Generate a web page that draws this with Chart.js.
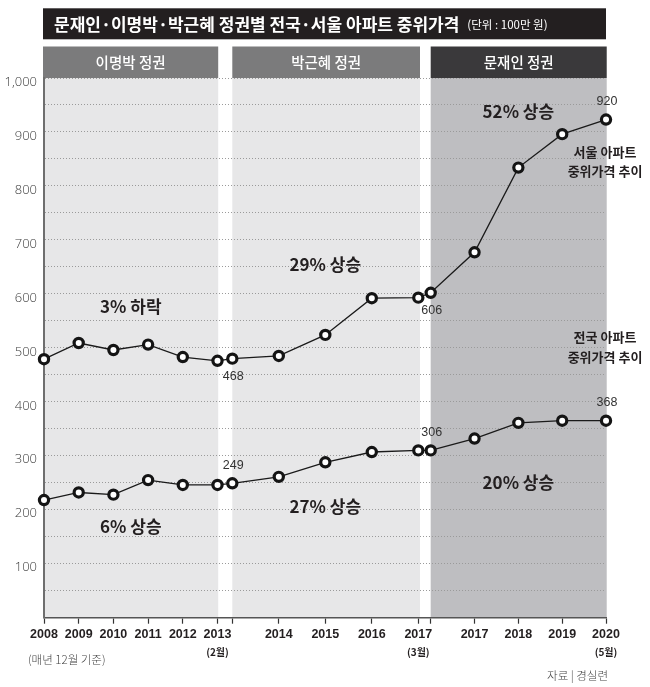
<!DOCTYPE html>
<html><head><meta charset="utf-8">
<script src="https://cdn.jsdelivr.net/npm/chart.js@4.4.1/dist/chart.umd.min.js"></script>
<style>html,body{margin:0;padding:0;background:#fff;overflow:hidden}#wrap{width:650px;height:687px;position:relative}</style>
</head><body><div id="wrap"><canvas id="c" width="650" height="687"></canvas></div>
<script>
// ---------- data ----------
const categories = ['2008','2009','2010','2011','2012','2013','','2014','2015','2016','2017','','2017','2018','2019','2020'];
const subLabels  = ['','','','','','(2월)','','','','','(3월)','','','','','(5월)'];
const periods    = ['이명박 정권','박근혜 정권','문재인 정권'];
const periodOf   = [0,0,0,0,0,0,1,1,1,1,1,2,2,2,2,2];
const seoulValues  = [479,509,496,506,483,476,480,485,524,592,593,602,677,834,896,923];
const nationValues = [218,232,228,255,246,246,249,261,288,307,310,310,332,361,365,365];
const seoulNotes   = ['','','','','','','468','','','','','606','','','','920'];
const nationNotes  = ['','','','','','','249','','','','','306','','','','368'];
const changeNotes  = [['3% 하락','6% 상승'],['29% 상승','27% 상승'],['52% 상승','20% 상승']];
const seriesNames  = [['서울 아파트','중위가격 추이'],['전국 아파트','중위가격 추이']];
const titleText = '문재인·이명박·박근혜 정권별 전국·서울 아파트 중위가격';
const unitText  = '(단위 : 100만 원)';
const noteText  = '(매년 12월 기준)';
const sourceText = '자료 | 경실련';

// ---------- layout (stylised axis: each government period has its own spacing) ----------
const X_MAX = 562;
const periodLayout = [{start:0, step:34.7},{start:188.3, step:46.5},{start:386.7, step:43.83}];
function xOf(i){ const p = periodOf[i]; const first = periodOf.indexOf(p); return periodLayout[p].start + (i-first)*periodLayout[p].step; }
const xVals = categories.map((_,i)=>xOf(i));
const KR = '"Noto Sans CJK KR", "Noto Sans", sans-serif';
const NUM = '"Liberation Sans", Arial, sans-serif';

const bgPlugin = {
  id:'bg',
  beforeDraw(chart){
    const {ctx, chartArea:a, scales:{x}} = chart;
    ctx.save();
    ctx.fillStyle='#fff'; ctx.fillRect(0,0,chart.width,chart.height);
    // title bar
    ctx.fillStyle='#231f20'; ctx.fillRect(a.left-1, 8.3, a.right-a.left+1, 31);
    ctx.fillStyle='#fff'; ctx.textBaseline='middle'; ctx.textAlign='left';
    ctx.font='bold 17px '+KR; ctx.fillText(titleText, a.left+10, 24.3);
    const w = ctx.measureText(titleText).width;
    ctx.font='11.5px '+KR; ctx.fillText(unitText, a.left+10+w+8, 25);
    // panels + headers
    periods.forEach((name,p)=>{
      const first = periodOf.indexOf(p), last = periodOf.lastIndexOf(p);
      let l = x.getPixelForValue(xVals[first]);
      let r = x.getPixelForValue(xVals[last]) + (p===1?1.7:0.7);
      if (p===0) l = a.left;
      ctx.fillStyle = p===2 ? '#bebec1' : '#e7e7e8';
      ctx.fillRect(l, a.top, r-l, a.bottom-a.top);
      ctx.fillStyle = p===2 ? '#3a393b' : '#7b7b7c';
      const hl = p===0 ? l-1 : l;
      ctx.fillRect(hl, a.top-31.5, r-hl, 31.5);
      ctx.fillStyle='#fff'; ctx.textAlign='center'; ctx.font='500 14.5px '+KR;
      ctx.fillText(name, (hl+r)/2, a.top-15.5);
    });
    ctx.restore();
  },
  afterDatasetsDraw(chart){
    const {ctx, chartArea:a, scales:{x,y}} = chart;
    ctx.save();
    // value notes
    [seoulNotes, nationNotes].forEach((notes,d)=>{
      const meta = chart.getDatasetMeta(d);
      notes.forEach((t,i)=>{
        if(!t) return;
        const pt = meta.data[i];
        const below = (d===0 && (i===6 || i===11));
        ctx.font='12.5px '+NUM; ctx.fillStyle='#333'; ctx.textAlign='center'; ctx.textBaseline='middle';
        ctx.fillText(t, pt.x+1, pt.y + (below?18:-18));
      });
    });
    // change notes per period
    const yPos = [[577,169],[655,205.5],[937,250]];
    changeNotes.forEach((pair,p)=>{
      const first = periodOf.indexOf(p), last = periodOf.lastIndexOf(p);
      const l = p===0 ? a.left : x.getPixelForValue(xVals[first]);
      const r = x.getPixelForValue(xVals[last]);
      pair.forEach((t,k)=>{
        ctx.font='bold 17px '+KR; ctx.fillStyle='#231f20'; ctx.textAlign='center'; ctx.textBaseline='middle';
        ctx.fillText(t, (l+r)/2, y.getPixelForValue(yPos[p][k]));
      });
    });
    // series names
    const sy = [[151.7,171],[337.5,357.5]];
    seriesNames.forEach((lines,s)=>{
      lines.forEach((t,k)=>{
        ctx.font='bold 13px '+KR; ctx.fillStyle='#231f20'; ctx.textAlign='center'; ctx.textBaseline='middle';
        ctx.fillText(t, a.right-1, sy[s][k]);
      });
    });
    // footnotes
    ctx.font='300 11.5px '+KR; ctx.fillStyle='#444'; ctx.textAlign='left'; ctx.textBaseline='middle';
    ctx.fillText(noteText, 28, 660);
    ctx.textAlign='right'; ctx.fillText(sourceText, 608, 676);
    ctx.restore();
  }
};

function setTicks(s){ s.ticks = xVals.map(v=>({value:v})); }

function build(){
  new Chart(document.getElementById('c'), {
    type:'line',
    data:{
      datasets:[
        {label:'서울', data: seoulValues.map((v,i)=>({x:xVals[i], y:v}))},
        {label:'전국', data: nationValues.map((v,i)=>({x:xVals[i], y:v}))}
      ].map(d=>Object.assign(d,{borderColor:'#1a1a1a', borderWidth:1.3, tension:0,
        pointRadius:4.6, pointBorderWidth:3.2, pointBackgroundColor:'#fff', pointBorderColor:'#141414', clip:false}))
    },
    options:{
      responsive:false, animation:false, devicePixelRatio:1,
      layout:{padding:{top:78, right:44, left:0, bottom:0}},
      plugins:{legend:{display:false}, tooltip:{enabled:false}},
      scales:{
        x:{type:'linear', min:0, max:X_MAX, position:'bottom', weight:0,
          afterBuildTicks:setTicks, afterFit:s=>{s.height=26;},
          ticks:{autoSkip:false, maxRotation:0, padding:3, color:'#231f20',
            font:{family:NUM, size:12.5, weight:'bold'}, callback:(v,i)=>categories[i]},
          grid:{drawOnChartArea:false, drawTicks:true, tickLength:6, tickColor:'#333', tickWidth:1.2},
          border:{display:true, color:'#555', width:1.5}},
        x2:{type:'linear', min:0, max:X_MAX, position:'bottom', weight:1,
          afterBuildTicks:setTicks, afterFit:s=>{s.height=687-643.7;},
          ticks:{autoSkip:false, maxRotation:0, padding:3, color:'#231f20',
            font:{family:KR, size:10, weight:'bold'}, callback:(v,i)=>subLabels[i]},
          grid:{display:false, drawTicks:false, tickLength:0}, border:{display:false}},
        y:{min:0, max:1000, afterFit:s=>{s.width=44;},
          ticks:{stepSize:50, padding:7, labelOffset:4, color:'#3a3a3a',
            font:{family:'"Open Sans", sans-serif', size:13, weight:'300'},
            callback:v=>(v>0 && v%100===0) ? v.toLocaleString('en-US') : ''},
          grid:{color:'#9a9a9a', lineWidth:1, drawTicks:false},
          border:{display:true, color:'#6e6e6e', width:2, dash:[1,2]}}
      }
    },
    plugins:[bgPlugin]
  });
}
const loads = ['bold 16px "Noto Sans CJK KR"','300 12px "Noto Sans CJK KR"','500 12px "Noto Sans CJK KR"','12px "Noto Sans CJK KR"','bold 12px "Liberation Sans"','12px "Liberation Sans"','300 13px "Open Sans"'].map(f=>document.fonts.load(f).catch(()=>{}));
Promise.race([Promise.all(loads), new Promise(r=>setTimeout(r,1500))]).then(build);
</script></body></html>
